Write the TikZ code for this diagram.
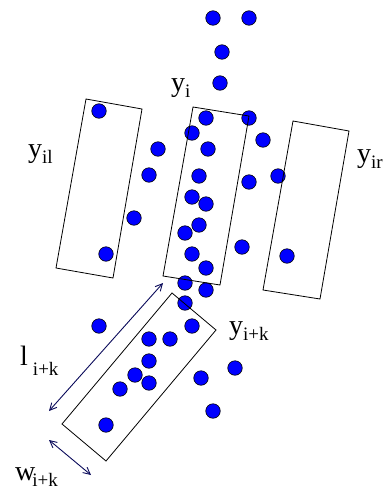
\documentclass[tikz,border=0pt]{standalone}
\usepackage{fontspec}
\setmainfont{Liberation Serif}
\usetikzlibrary{arrows.meta}
\definecolor{navy}{RGB}{10,10,90}
\newcommand\subtx[1]{\raisebox{-6pt}{\fontsize{19}{19}\selectfont #1}}
\tikzset{
  dot/.style={circle,fill=blue,draw=black,line width=0.6pt,minimum size=14.5pt,inner sep=0pt},
  band/.style={draw=black,line width=0.8pt},
  lab/.style={anchor=base west,inner sep=0pt,font=\fontsize{28}{28}\selectfont},
  dimarrow/.style={draw=navy,line width=0.9pt,{Straight Barb[length=7pt,width=7pt]}-{Straight Barb[length=7pt,width=7pt]}}
}
\begin{document}
\begin{tikzpicture}[x=1pt,y=-1pt]
\useasboundingbox (0,0) rectangle (390,493);
% dots
\foreach \i/\p in {1/{213,18},2/{249,18},3/{222,52},4/{220,83},5/{99,111},6/{206,118},7/{249,118},
  8/{192,133},9/{263,140},10/{158,149},11/{208,149},12/{149,175},13/{199,176},14/{278,176},
  15/{249,182},16/{192,197},17/{206,204},18/{134,218},19/{199,225},20/{185,233},21/{242,247},
  22/{106,254},23/{192,254},24/{206,268},25/{287,256},26/{185,283},27/{206,290},28/{185,303},
  29/{99,326},30/{192,326},31/{149,339},32/{170,339},33/{149,361},34/{135,375},35/{149,383},
  36/{120,389},37/{201,378},38/{235,368},39/{213,411},40/{106,425}}
  \node[dot] (d\i) at (\p) {};
% rectangles
\coordinate (L1) at (86,99); \coordinate (L2) at (142,109); \coordinate (L3) at (113,278); \coordinate (L4) at (56,268);
\coordinate (M1) at (193,107); \coordinate (M2) at (249,116); \coordinate (M3) at (220,285); \coordinate (M4) at (163,276);
\coordinate (R1) at (293,121); \coordinate (R2) at (349,131); \coordinate (R3) at (320,299); \coordinate (R4) at (263,290);
\coordinate (B1) at (172,293); \coordinate (B2) at (216,330); \coordinate (B3) at (106,461); \coordinate (B4) at (62,424);
\draw[band] (L1) -- (L2) -- (L3) -- (L4) -- cycle;
\draw[band] (M1) -- (M2) -- (M3) -- (M4) -- cycle;
\draw[band] (R1) -- (R2) -- (R3) -- (R4) -- cycle;
\draw[band] (B1) -- (B2) -- (B3) -- (B4) -- cycle;
% dimension arrows
\coordinate (la) at (163,283); \coordinate (lb) at (49,411);
\coordinate (wa) at (49,440); \coordinate (wb) at (91,475);
\draw[dimarrow] (la) -- (lb);
\draw[dimarrow] (wa) -- (wb);
% labels
\node[lab] (yi) at (171,91) {y\subtx{i}};
\node[lab] (yil) at (28,157) {y\subtx{il}};
\node[lab] (yir) at (357,162) {y\subtx{ir}};
\node[lab] (yik) at (229,334) {y\subtx{i+k}};
\node[lab] (lik) at (20,365) {l\hspace{5pt}\raisebox{-10pt}{\fontsize{19}{19}\selectfont i+k}};
\node[lab] (wik) at (15,480) {w\hspace{-3pt}\subtx{i+k}};
\end{tikzpicture}
\end{document}
